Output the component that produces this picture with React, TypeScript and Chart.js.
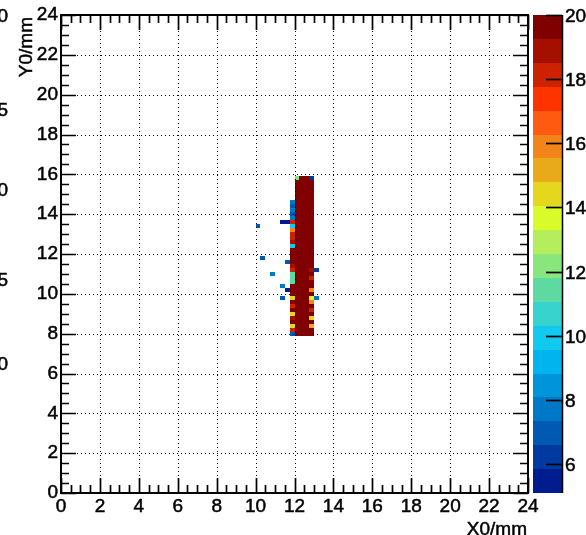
import React, { useEffect, useRef } from "react";
import { Chart, registerables } from "chart.js";

Chart.register(...registerables);

const FONT = "'Liberation Sans', Arial, Helvetica, sans-serif";
const FONT_SIZE = 19;

// ---- axes / ticks ----
const X_TICKS = [0, 2, 4, 6, 8, 10, 12, 14, 16, 18, 20, 22, 24];
const Y_TICKS = [0, 2, 4, 6, 8, 10, 12, 14, 16, 18, 20, 22, 24];
const Z_TICKS = [6, 8, 10, 12, 14, 16, 18, 20];
const X_MIN = 0;
const X_MAX = 24;
const Y_MIN = 0;
const Y_MAX = 24;
const Z_MIN = 5.1;
const Z_MAX = 20;
const MINOR_STEP = 0.5;
const X_TITLE = "X0/mm";
const Y_TITLE = "Y0/mm";
const EDGE_LABELS = ["0", "5", "0", "5", "0"];

// ---- histogram bins ----
const BIN_W = 0.25;
const BIN_H = 0.2;

// palette, lowest band first (20 contour bands)
const PALETTE = [
  "#001c8e", "#003aa0", "#005ab2", "#0078c8", "#0094da",
  "#00b4ee", "#12caef", "#36d4cc", "#5ed9a2", "#88e67c",
  "#b4ee5c", "#d9fb2a", "#e5d61e", "#e8aa18", "#f38418",
  "#ff5a10", "#ff3300", "#cc2200", "#a50f00", "#800000",
];

const COLUMN_X = [11.875, 12.125, 12.375, 12.625, 12.875];
const ROW_Y = [
  8.0, 8.2, 8.4, 8.6, 8.8, 9.0, 9.2, 9.4, 9.6, 9.8,
  10.0, 10.2, 10.4, 10.6, 10.8, 11.0, 11.2, 11.4, 11.6, 11.8,
  12.0, 12.2, 12.4, 12.6, 12.8, 13.0, 13.2, 13.4, 13.6, 13.8,
  14.0, 14.2, 14.4, 14.6, 14.8, 15.0, 15.2, 15.4, 15.6, 15.8,
];

const COL_11_875 = [
  7.0, 18.1, 14.4, 19.6, 18.9, 14.4, 21, 18.1, 21, 14.4,
  22, 21, 20.5, 11.4, 11.3, 11.5, 18.1, 18.9, 21, 22,
  21, 20.5, 10.0, 18.9, 18.1, 18.1, 15.9, 10.0, 18.1, 7.6,
  7.0, 7.6, 7.0, 7.8, null, null, null, null, null, null,
];
const COL_12_125 = [
  25, 25, 25, 25, 25, 25, 25, 25, 25, 25,
  25, 25, 25, 25, 25, 25, 25, 25, 25, 25,
  25, 25, 25, 25, 25, 25, 25, 25, 25, 25,
  25, 25, 25, 25, 25, 25, 25, 25, 25, 12.2,
];
const COL_12_375 = [
  25, 25, 25, 25, 25, 25, 25, 25, 25, 25,
  25, 25, 25, 25, 25, 25, 25, 25, 25, 25,
  25, 25, 25, 25, 25, 25, 25, 25, 25, 25,
  25, 25, 25, 25, 25, 25, 25, 25, 25, 25,
];
const COL_12_625 = [
  25, 25, 25, 25, 25, 25, 25, 25, 25, 25,
  25, 25, 25, 25, 25, 25, 25, 25, 25, 25,
  25, 25, 25, 25, 25, 25, 25, 25, 25, 25,
  25, 25, 25, 25, 25, 25, 25, 25, 25, 25,
];
const COL_12_875 = [
  22, 21, 15.2, 21, 14.4, 20.5, 18.1, 21, 15.9, 13.6,
  21, 15.9, 22, 21, 18.1, 21, 18.9, 22, 22, 22,
  22, 22, 22, 22, 22, 22, 22, 22, 22, 22,
  22, 22, 22, 22, 22, 22, 22, 22, 22, 6.3,
];
const COLUMN_VALUES = [COL_11_875, COL_12_125, COL_12_375, COL_12_625, COL_12_875];

// isolated hits around the core
const STRAY_X = [10.125, 10.375, 10.875, 11.625, 11.375, 11.625, 11.375, 11.375, 11.625, 13.125, 13.125];
const STRAY_Y = [13.4, 11.8, 11.0, 11.6, 10.4, 10.2, 9.8, 13.6, 13.6, 11.2, 9.8];
const STRAY_V = [7.0, 7.0, 7.4, 7.0, 7.4, 5.6, 7.0, 5.6, 5.8, 6.0, 7.7];

type Cell = { x: number; y: number; v: number };

function buildCells(): Cell[] {
  const cells: Cell[] = [];
  COLUMN_X.forEach((cx, ci) => {
    const col = COLUMN_VALUES[ci];
    ROW_Y.forEach((cy, ri) => {
      const v = col[ri];
      if (v !== null && v !== undefined) cells.push({ x: cx, y: cy, v });
    });
  });
  STRAY_X.forEach((sx, i) => cells.push({ x: sx, y: STRAY_Y[i], v: STRAY_V[i] }));
  return cells;
}

function colorFor(v: number): string {
  let i = Math.floor(((v - Z_MIN) / (Z_MAX - Z_MIN)) * PALETTE.length);
  if (i < 0) i = 0;
  if (i >= PALETTE.length) i = PALETTE.length - 1;
  return PALETTE[i];
}

function boldText(ctx: CanvasRenderingContext2D, t: string, x: number, y: number) {
  ctx.fillText(t, x, y);
  ctx.strokeText(t, x, y);
}

const cellsPlugin = {
  id: "cells",
  beforeDatasetsDraw(chart: any) {
    const { ctx, chartArea: ca, scales } = chart;
    const xs = scales.x;
    const ys = scales.y;
    const pts: Cell[] = chart.data.datasets[0].data;
    ctx.save();
    ctx.beginPath();
    ctx.rect(ca.left, ca.top, ca.right - ca.left, ca.bottom - ca.top);
    ctx.clip();
    for (const p of pts) {
      if (p.v < Z_MIN) continue;
      const l = Math.round(xs.getPixelForValue(p.x - BIN_W / 2));
      const r = Math.round(xs.getPixelForValue(p.x + BIN_W / 2));
      const t = Math.round(ys.getPixelForValue(p.y + BIN_H / 2));
      const b = Math.round(ys.getPixelForValue(p.y - BIN_H / 2));
      ctx.fillStyle = colorFor(p.v);
      ctx.fillRect(l, t, r - l, b - t);
    }
    ctx.restore();
  },
};

const framePlugin = {
  id: "frame",
  afterDatasetsDraw(chart: any) {
    const { ctx, chartArea: ca, scales } = chart;
    const xs = scales.x;
    const ys = scales.y;
    ctx.save();
    // dotted grid at major ticks
    ctx.strokeStyle = "#000";
    ctx.lineWidth = 1;
    ctx.setLineDash([1, 3]);
    for (const v of X_TICKS) {
      if (v <= X_MIN || v >= X_MAX) continue;
      const px = Math.round(xs.getPixelForValue(v)) + 0.5;
      ctx.beginPath();
      ctx.moveTo(px, ca.top);
      ctx.lineTo(px, ca.bottom);
      ctx.stroke();
    }
    for (const v of Y_TICKS) {
      if (v <= Y_MIN || v >= Y_MAX) continue;
      const py = Math.round(ys.getPixelForValue(v)) + 0.5;
      ctx.beginPath();
      ctx.moveTo(ca.left, py);
      ctx.lineTo(ca.right, py);
      ctx.stroke();
    }
    ctx.setLineDash([]);
    // tick marks on all four sides
    ctx.lineWidth = 1.7;
    const nx = Math.round((X_MAX - X_MIN) / MINOR_STEP);
    for (let i = 0; i <= nx; i++) {
      const v = X_MIN + i * MINOR_STEP;
      const major = X_TICKS.includes(v);
      const len = major ? 15 : 8;
      const px = Math.round(xs.getPixelForValue(v)) + 0.5;
      ctx.beginPath();
      ctx.moveTo(px, ca.bottom);
      ctx.lineTo(px, ca.bottom - len);
      ctx.moveTo(px, ca.top);
      ctx.lineTo(px, ca.top + len);
      ctx.stroke();
    }
    const ny = Math.round((Y_MAX - Y_MIN) / MINOR_STEP);
    for (let i = 0; i <= ny; i++) {
      const v = Y_MIN + i * MINOR_STEP;
      const major = Y_TICKS.includes(v);
      const len = major ? 15 : 8;
      const py = Math.round(ys.getPixelForValue(v)) + 0.5;
      ctx.beginPath();
      ctx.moveTo(ca.left, py);
      ctx.lineTo(ca.left + len, py);
      ctx.moveTo(ca.right, py);
      ctx.lineTo(ca.right - len, py);
      ctx.stroke();
    }
    // frame
    ctx.lineWidth = 2;
    ctx.strokeRect(ca.left, ca.top, ca.right - ca.left, ca.bottom - ca.top);
    ctx.restore();
  },
};

const colorbarPlugin = {
  id: "colorbar",
  afterDraw(chart: any) {
    const { ctx, chartArea: ca, scales } = chart;
    const zs = scales.z;
    const x0 = ca.right + 5;
    const x1 = ca.right + 34;
    const step = (Z_MAX - Z_MIN) / PALETTE.length;
    ctx.save();
    PALETTE.forEach((c, i) => {
      const lo = Z_MIN + i * step;
      const hi = lo + step;
      const yt = Math.round(zs.getPixelForValue(hi));
      const yb = Math.round(zs.getPixelForValue(lo));
      ctx.fillStyle = c;
      ctx.fillRect(x0, yt, x1 - x0, yb - yt);
    });
    const top = zs.getPixelForValue(Z_MAX);
    const bot = zs.getPixelForValue(Z_MIN);
    ctx.strokeStyle = "#000";
    ctx.lineWidth = 1.5;
    ctx.beginPath();
    ctx.moveTo(x1 + 0.5, top);
    ctx.lineTo(x1 + 0.5, bot);
    ctx.stroke();
    ctx.fillStyle = "#000";
    ctx.font = `${FONT_SIZE}px ${FONT}`;
    ctx.textAlign = "left";
    ctx.textBaseline = "middle";
    for (const v of Z_TICKS) {
      const py = Math.round(zs.getPixelForValue(v)) + 0.5;
      ctx.lineWidth = 1.7;
      ctx.beginPath();
      ctx.moveTo(x1 - 16, py);
      ctx.lineTo(x1, py);
      ctx.stroke();
      ctx.lineWidth = 0.5;
      boldText(ctx, String(v), x1 + 3, py + 1);
    }
    ctx.restore();
  },
};

const textPlugin = {
  id: "texts",
  afterDraw(chart: any) {
    const { ctx, chartArea: ca } = chart;
    ctx.save();
    ctx.fillStyle = "#000";
    ctx.strokeStyle = "#000";
    ctx.lineWidth = 0.5;
    ctx.font = `${FONT_SIZE}px ${FONT}`;
    // x title, right-aligned at axis end
    ctx.textAlign = "right";
    ctx.textBaseline = "alphabetic";
    boldText(ctx, X_TITLE, ca.right - 1, 535);
    // y title, rotated, aligned to the top
    ctx.save();
    ctx.translate(32, ca.top + 2);
    ctx.rotate(-Math.PI / 2);
    ctx.textAlign = "right";
    boldText(ctx, Y_TITLE, 0, 0);
    ctx.restore();
    // clipped labels of the neighbouring pad at the left edge
    const edgeY = [16.5, 110.5, 190.5, 280.5, 364.5];
    ctx.textAlign = "right";
    ctx.textBaseline = "middle";
    EDGE_LABELS.forEach((t, i) => boldText(ctx, t, 8, edgeY[i]));
    ctx.restore();
  },
};

export default function App() {
  const ref = useRef<HTMLCanvasElement | null>(null);
  useEffect(() => {
    const canvas = ref.current;
    if (!canvas) return;
    const tickFont = { family: FONT, size: FONT_SIZE };
    const chart = new Chart(canvas, {
      type: "scatter",
      data: {
        datasets: [
          {
            data: buildCells() as any,
            pointRadius: 0,
            pointHoverRadius: 0,
            showLine: false,
          },
        ],
      },
      options: {
        responsive: false,
        animation: false,
        events: [],
        layout: { padding: { left: 0, top: 15, right: 58, bottom: 0 } },
        plugins: {
          legend: { display: false },
          tooltip: { enabled: false },
          title: { display: false },
        },
        scales: {
          x: {
            type: "linear",
            position: "bottom",
            min: X_MIN,
            max: X_MAX,
            afterBuildTicks: (s: any) => {
              s.ticks = X_TICKS.map((v) => ({ value: v }));
            },
            afterFit: (s: any) => {
              s.height = 42;
            },
            grid: { display: false, drawTicks: false },
            border: { display: false },
            ticks: {
              autoSkip: false,
              maxRotation: 0,
              minRotation: 0,
              padding: 2,
              color: "#000",
              textStrokeColor: "#000",
              textStrokeWidth: 0.5,
              font: tickFont,
              callback: (v: any) => String(v),
            },
          },
          y: {
            type: "linear",
            position: "left",
            min: Y_MIN,
            max: Y_MAX,
            afterBuildTicks: (s: any) => {
              s.ticks = Y_TICKS.map((v) => ({ value: v }));
            },
            afterFit: (s: any) => {
              s.width = 61;
            },
            grid: { display: false, drawTicks: false },
            border: { display: false },
            ticks: {
              autoSkip: false,
              padding: 3,
              color: "#000",
              textStrokeColor: "#000",
              textStrokeWidth: 0.5,
              font: tickFont,
              callback: (v: any) => String(v),
            },
          },
          z: {
            type: "linear",
            position: "right",
            min: Z_MIN,
            max: Z_MAX,
            display: false,
          },
        },
      } as any,
      plugins: [cellsPlugin, framePlugin, colorbarPlugin, textPlugin],
    });
    return () => chart.destroy();
  }, []);
  return (
    <div
      style={{
        position: "absolute",
        left: 0,
        top: 0,
        width: 586,
        height: 535,
        background: "#fff",
      }}
    >
      <canvas
        ref={ref}
        width={586}
        height={535}
        style={{ display: "block", width: 586, height: 535 }}
      />
    </div>
  );
}
